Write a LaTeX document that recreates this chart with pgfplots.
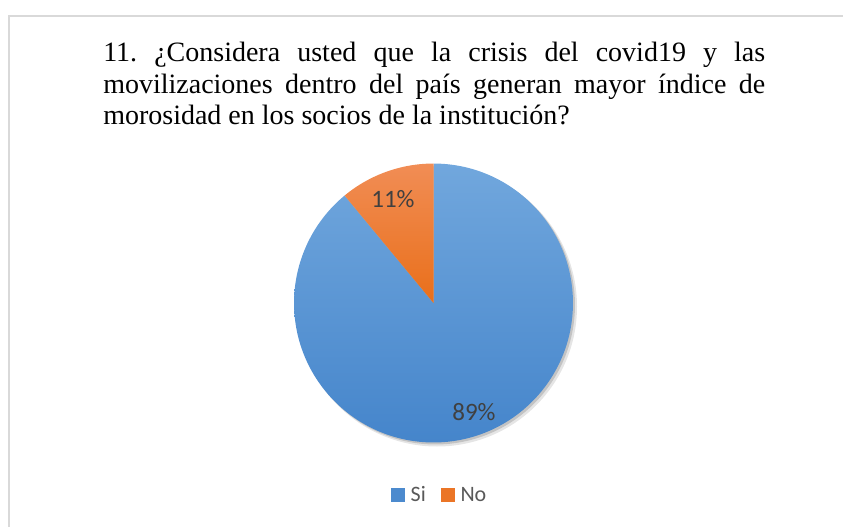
\documentclass[border=0pt]{standalone}
\usepackage{fontspec}
\setmainfont{Liberation Serif}
\newfontfamily\calibri{Carlito}
\usepackage{pgfplots}
\usepackage{pgfplotstable}
\pgfplotsset{compat=1.18}
\definecolor{siA}{HTML}{71A7DD}
\definecolor{siB}{HTML}{4585CB}
\definecolor{noA}{HTML}{F18D55}
\definecolor{noB}{HTML}{E96F1A}
\definecolor{frame}{HTML}{D9D9D9}
\definecolor{lab}{HTML}{404040}
\definecolor{legtxt}{HTML}{595959}
\pgfplotstableread{
label value
Si 89
No 11
}\piedata
\pgfplotstablegetelem{0}{value}\of\piedata
\pgfmathsetmacro\aSi{90-3.6*\pgfplotsretval}
\pgfplotstablegetelem{1}{value}\of\piedata
\pgfmathsetmacro\aNo{\aSi+360}
\begin{document}
\frenchspacing
\begin{tikzpicture}
\begin{axis}[
  at={(0,0)}, anchor=south west,
  x=0.75pt, y=0.75pt,
  xmin=0, xmax=843, ymin=0, ymax=526,
  hide axis, clip=false,
  legend columns=2,
  legend style={at={(axis cs:438.5,31)}, anchor=center, draw=none, fill=none,
    font=\calibri\fontsize{16.5pt}{19pt}\selectfont, text=legtxt,
    /tikz/every even column/.append style={column sep=11pt},
    nodes={inner sep=0pt}, column sep=4.5pt},
  legend image code/.code={\fill[#1] (0pt,-5.25pt) rectangle (10.5pt,5.25pt);},
]
% frame
\draw[frame, line width=1.5pt] (axis cs:9,-20) -- (axis cs:9,510.3) -- (axis cs:880,510.3);
% title
\node[anchor=base west, inner sep=0pt, text width=496.5pt, align=justify,
  font=\fontsize{21pt}{23.6pt}\selectfont] at (axis cs:103,464)
  {\hyphenpenalty=10000 11. ¿Considera usted que la crisis del covid19 y las\linebreak
   movilizaciones dentro del país generan mayor índice de\linebreak
   morosidad en los socios de la institución?};
% shadow
\fill[black, opacity=0.10] (axis cs:437,219.5) circle[radius=105pt];
\fill[black, opacity=0.15] (axis cs:435.5,221) circle[radius=104.6pt];
% wedges
\shade[top color=siA, bottom color=siB]
  (axis cs:433.5,223) -- ++(90:104.6pt) arc[start angle=90, end angle=\aSi, radius=104.6pt] -- cycle;
\shade[top color=noA, bottom color=noB]
  (axis cs:433.5,223) -- ++(\aNo:104.6pt) arc[start angle=\aNo, end angle=90, radius=104.6pt] -- cycle;
% labels
\node[anchor=base, inner sep=0pt, text=lab, font=\calibri\fontsize{18.75pt}{22pt}\selectfont]
  at (axis cs:393,319) {11\%};
\node[anchor=base, inner sep=0pt, text=lab, font=\calibri\fontsize{18.75pt}{22pt}\selectfont]
  at (axis cs:474,106) {89\%};
\addlegendimage{fill=siB!85!siA, draw=none}
\addlegendentry{Si}
\addlegendimage{fill=noB!80!noA, draw=none}
\addlegendentry{No}
\end{axis}
\pgfresetboundingbox
\path (0,0) rectangle (632.25pt,394.5pt);
\end{tikzpicture}
\end{document}
